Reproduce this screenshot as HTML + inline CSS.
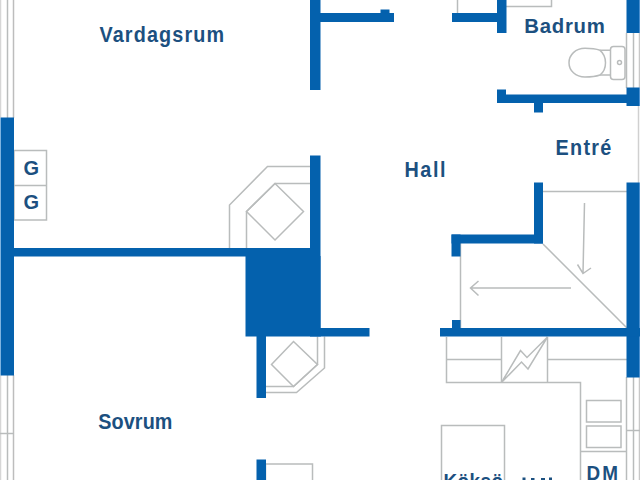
<!DOCTYPE html>
<html><head><meta charset="utf-8">
<style>
html,body{margin:0;padding:0;background:#fff;width:640px;height:480px;overflow:hidden}
svg{display:block}
text{font-family:"Liberation Sans",sans-serif;font-weight:bold;fill:#1c5080}
</style></head><body>
<svg width="640" height="480" viewBox="0 0 640 480">
<g fill="none" stroke="#b9bcbc" stroke-width="1.5">
  <!-- left window -->
  <line x1="0.5" y1="0" x2="0.5" y2="480" stroke="#d6d6d6"/>
  <line x1="7.5" y1="0" x2="7.5" y2="118"/>
  <line x1="13.5" y1="0" x2="13.5" y2="118" stroke="#bdbdbd"/>
  <line x1="7.5" y1="375" x2="7.5" y2="480"/>
  <line x1="13.5" y1="375" x2="13.5" y2="480" stroke="#bdbdbd"/>
  <line x1="0" y1="433.5" x2="14" y2="433.5"/>
  <!-- right windows -->
  <line x1="626.5" y1="33" x2="626.5" y2="88"/>
  <line x1="633.5" y1="33" x2="633.5" y2="88"/>
  <line x1="639.5" y1="33" x2="639.5" y2="88" stroke="#c8c8c8"/>
  <line x1="638.5" y1="106" x2="638.5" y2="183" stroke="#d0d0d0"/>
  <line x1="626.5" y1="377" x2="626.5" y2="480"/>
  <line x1="633.5" y1="377" x2="633.5" y2="480"/>
  <line x1="639.5" y1="377" x2="639.5" y2="480" stroke="#c8c8c8"/>
  <line x1="626" y1="430.5" x2="640" y2="430.5"/>
  <!-- G boxes -->
  <rect x="14" y="150.5" width="32.5" height="69.5"/>
  <line x1="14" y1="185.5" x2="46.5" y2="185.5"/>
  <!-- top boxes -->
  <line x1="457.5" y1="0" x2="457.5" y2="13"/>
  <path d="M506 6.5 H551.5 V0"/>
  <!-- toilet -->
  <path d="M600 50.3 C595 48.5 590 48.3 585 48.3 C575.5 48.3 569 55 569 62.7 C569 70.5 575.5 77 585 77 C590 77 595 76.8 600 75 C604.5 71.5 605.5 66 605.5 62.7 C605.5 59.5 604.5 54 600 50.3 Z"/>
  <path d="M600 50.3 L611 50.3 M600 75 L611 75"/>
  <rect x="610.5" y="46.5" width="14.5" height="33" rx="3"/>
  <circle cx="619.5" cy="62.5" r="2"/>
  <!-- stair -->
  <line x1="543" y1="191.5" x2="627" y2="191.5"/>
  <line x1="460.5" y1="243" x2="460.5" y2="328"/>
  <line x1="543" y1="244" x2="627" y2="328"/>
  <path d="M584.5 203 L583 273.5 M577.5 264.5 L583 273.5 L591 268"/>
  <path d="M571 288 H470.5 M478.5 281 L470.5 288 L478.5 295.5"/>
  <!-- counter -->
  <path d="M446.5 337 V382.5 H580.5 V480"/>
  <line x1="501.5" y1="337" x2="501.5" y2="382.5"/>
  <line x1="547.5" y1="337" x2="547.5" y2="382.5"/>
  <line x1="446.5" y1="359.5" x2="501.5" y2="359.5"/>
  <line x1="547.5" y1="359.5" x2="627" y2="359.5"/>
  <path d="M501.5 382.5 L520.5 350.5 L527 357.5 L547.5 337 L528 369 L521.5 362 Z"/>
  <rect x="586.5" y="400.5" width="34.5" height="21.5"/>
  <rect x="586.5" y="426" width="34.5" height="21.5"/>
  <line x1="580.5" y1="451.5" x2="627" y2="451.5"/>
  <rect x="441.5" y="425.5" width="63" height="60"/>
  <rect x="265.5" y="464" width="47" height="30"/>
  <!-- fireplace upper -->
  <path d="M229.5 248 V205 L267.5 166.5 H310"/>
  <path d="M246.5 248 V211.5 L275 183.5 H310"/>
  <path d="M275 183.5 L303.5 211.5 L275 240 L246.5 211.5 Z"/>
  <!-- fireplace lower -->
  <path d="M324.5 336.5 V368 L296.5 392.5 H266"/>
  <path d="M317.5 336.5 V364.5 L293.5 386.5 H266"/>
  <path d="M293.5 341.5 L317.5 364.5 L293.5 386.5 L271.5 364.5 Z"/>
</g>
<g fill="#0461ad">
  <rect x="1" y="117.5" width="13" height="258"/><rect x="0" y="117.5" width="1" height="258" fill="#7db3e0"/>
  <rect x="310" y="0" width="10.5" height="90"/>
  <rect x="320" y="13" width="74" height="9"/>
  <rect x="380.5" y="9.5" width="9" height="4"/>
  <rect x="452" y="13" width="45" height="9"/>
  <rect x="497" y="0" width="9.5" height="33"/>
  <rect x="626.5" y="0" width="12.5" height="33"/><rect x="639" y="0" width="1" height="33" fill="#4a8fcf"/>
  <rect x="497" y="94.5" width="143" height="8.5"/>
  <rect x="497" y="89.5" width="9" height="13.5"/>
  <rect x="534" y="103" width="9" height="9.5"/>
  <rect x="626.5" y="87.5" width="12.5" height="18.5"/><rect x="639" y="87.5" width="1" height="18.5" fill="#4a8fcf"/>
  <rect x="534" y="182.5" width="9" height="61"/>
  <rect x="451.5" y="234.5" width="91.5" height="9"/>
  <rect x="451.5" y="234.5" width="9" height="22"/>
  <rect x="626.5" y="182.5" width="12.5" height="195"/><rect x="639" y="182.5" width="1" height="195" fill="#4a8fcf"/>
  <rect x="440" y="328" width="200" height="8.5"/>
  <rect x="452" y="320" width="8.5" height="8"/>
  <rect x="14" y="248" width="306" height="8.5"/>
  <rect x="310" y="155.5" width="10.5" height="181"/>
  <rect x="245.5" y="256" width="75" height="80.5"/>
  <rect x="320" y="328" width="49.5" height="8.5"/>
  <rect x="256.5" y="336" width="9.5" height="62"/>
  <rect x="256.5" y="459.5" width="9.5" height="21"/>
</g>
<text transform="translate(99.5 42) scale(0.9 1)" font-size="22" letter-spacing="1.26">Vardagsrum</text>
<text transform="translate(524.3 32.8) scale(0.97 1)" font-size="21" letter-spacing="0.75">Badrum</text>
<text transform="translate(555.5 154.5) scale(0.9 1)" font-size="22" letter-spacing="1.47">Entré</text>
<text transform="translate(404.5 176.5) scale(0.9 1)" font-size="22" letter-spacing="1.74">Hall</text>
<text transform="translate(98.3 429) scale(0.9 1)" font-size="22" letter-spacing="0.11">Sovrum</text>
<text x="23.5" y="174.5" font-size="20">G</text>
<text x="23.5" y="208.5" font-size="20">G</text>
<text transform="translate(586.5 480) scale(0.9 1)" font-size="21" letter-spacing="2.4">DM</text>
<text transform="translate(443.5 488) scale(0.9 1)" font-size="21" letter-spacing="0.5">Köksö</text>
<g fill="#1c5080"><rect x="522.5" y="477.5" width="3" height="3"/><rect x="531" y="478" width="3.5" height="2"/><rect x="541" y="478" width="4" height="2"/><rect x="549" y="477.5" width="3" height="3"/></g>
</svg>
</body></html>
